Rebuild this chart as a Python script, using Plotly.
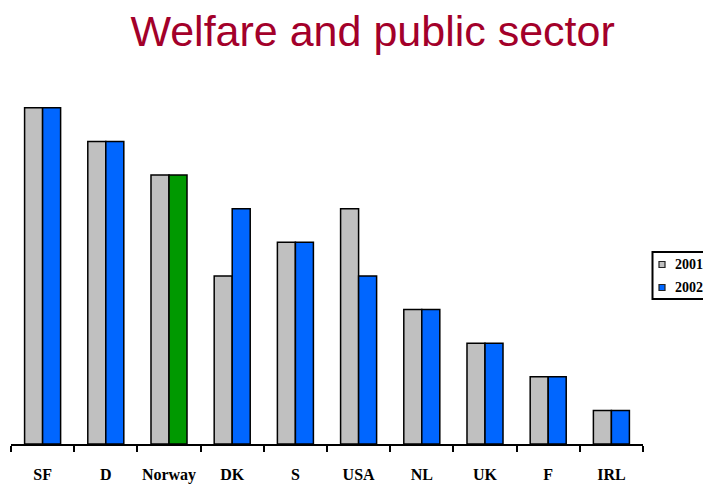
import plotly.graph_objects as go

# Ranking of countries, welfare and public sector
countries = ["SF", "D", "Norway", "DK", "S", "USA", "NL", "UK", "F", "IRL"]
rank_2001 = [10, 9, 8, 5, 6, 7, 4, 3, 2, 1]
rank_2002 = [10, 9, 8, 7, 6, 5, 4, 3, 2, 1]
years = ["2001", "2002"]

gray = "#C0C0C0"
blue = "#0066FF"
green = "#009900"
colors_2002 = [green if c == "Norway" else blue for c in countries]

W, H = 703, 484
ML, MR, MT, MB = 11, 60, 91, 40
plot_w = W - ML - MR
plot_h = H - MT - MB


def px_x(px):
    return (px - ML) / plot_w


def px_y(py):
    return (H - MB - py) / plot_h


fig = go.Figure()
fig.add_trace(go.Bar(
    x=countries, y=rank_2001, name=years[0],
    marker=dict(color=gray, line=dict(color="black", width=1.5)),
))
fig.add_trace(go.Bar(
    x=countries, y=rank_2002, name=years[1],
    marker=dict(color=colors_2002, line=dict(color="black", width=1.5)),
))

# Legend box, drawn by hand so the swatches stay small
shapes = [dict(
    type="rect", xref="paper", yref="paper",
    x0=px_x(652.5), x1=px_x(720), y0=px_y(299), y1=px_y(252),
    line=dict(color="black", width=2), fillcolor="white", layer="above",
)]
annotations = []
for name, color, cy in [(years[0], gray, 264.5), (years[1], blue, 287.5)]:
    shapes.append(dict(
        type="rect", xref="paper", yref="paper",
        x0=px_x(659), x1=px_x(665), y0=px_y(cy + 3), y1=px_y(cy - 3),
        line=dict(color="#222222", width=1.2), fillcolor=color, layer="above",
    ))
    annotations.append(dict(
        text=name, xref="paper", yref="paper", x=px_x(673), y=px_y(cy),
        xanchor="left", yanchor="middle", showarrow=False,
        font=dict(family="Liberation Serif", size=14, color="black", weight="bold"),
    ))

fig.update_layout(
    width=W, height=H,
    margin=dict(l=ML, r=MR, t=MT, b=MB, autoexpand=False),
    paper_bgcolor="white", plot_bgcolor="white",
    barmode="group", bargap=0.43, bargroupgap=0,
    title=dict(
        text="Welfare and public sector",
        font=dict(family="Liberation Sans", size=43, color="#A3002A"),
        x=0.53, xanchor="center", xref="container",
        y=0.968, yanchor="top", yref="container",
    ),
    showlegend=False,
    shapes=shapes,
    annotations=annotations,
)
fig.update_xaxes(
    showline=True, linecolor="black", linewidth=2,
    ticks="outside", tickson="boundaries", ticklen=6, tickwidth=2, tickcolor="black",
    ticklabelstandoff=15, automargin=False, tickangle=0,
    tickfont=dict(family="Liberation Serif", size=16, color="black", weight="bold"),
    showgrid=False,
)
fig.update_yaxes(range=[0, 10.5], visible=False, showgrid=False, automargin=False)

fig.write_html("out.html")
